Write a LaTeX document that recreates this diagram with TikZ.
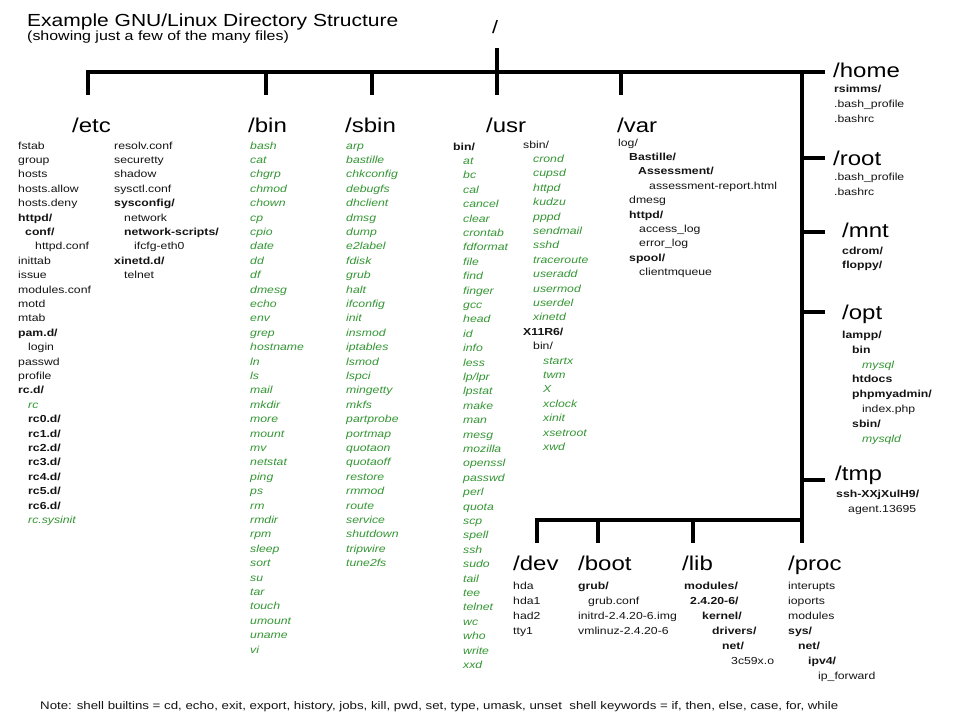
\documentclass[tikz,border=0pt]{standalone}
\usepackage{fontspec}
\setmainfont[FakeStretch=1.2]{Liberation Sans}
\definecolor{exgreen}{RGB}{51,150,51}
\definecolor{txt}{RGB}{20,20,20}
\newcommand\gx[1]{{\color{exgreen}\itshape #1}}
\newcommand\bx[1]{\textbf{#1}}
\newcommand\ix[1]{\hspace*{#1pt}}
\begin{document}
\begin{tikzpicture}[x=1pt,y=-1pt,
  lst/.style={anchor=base west, inner sep=0pt, text=txt, font=\fontsize{10.2}{#1}\selectfont},
  lst/.default=14.4,
  big/.style={anchor=base west, inner sep=0pt, text=black, font=\fontsize{20}{24}\selectfont},
  conn/.style={line width=4.3pt, line join=miter, black}]
\useasboundingbox[fill=white] (0,0) rectangle (960,720);

% title
\node[anchor=base west, inner sep=0pt, font=\fontsize{17.5}{20}\selectfont] (title) at (27,27) {Example GNU/Linux Directory Structure};
\node[anchor=base west, inner sep=0pt, font=\fontsize{13.3}{16}\selectfont] (subtitle) at (27,40) {(showing just a few of the many files)};
\node[anchor=base west, inner sep=0pt, font=\fontsize{18}{20}\selectfont] (root) at (492,33) {/};

% connectors
\coordinate (rt) at (497,48); \coordinate (rb) at (497,95);
\coordinate (etcd) at (88,95); \coordinate (hl) at (88,72); \coordinate (hr) at (825,72);
\coordinate (binj) at (266,72); \coordinate (bind) at (266,95);
\coordinate (sbinj) at (372,72); \coordinate (sbind) at (372,95);
\coordinate (varj) at (621,72); \coordinate (vard) at (621,95);
\coordinate (vt) at (802,72); \coordinate (vb) at (802,543);
\coordinate (rootj) at (802,158); \coordinate (roote) at (825,158);
\coordinate (mntj) at (802,232); \coordinate (mnte) at (825,232);
\coordinate (optj) at (802,312); \coordinate (opte) at (825,312);
\coordinate (tmpj) at (802,480); \coordinate (tmpe) at (825,480);
\coordinate (devd) at (537,543); \coordinate (devj) at (537,520); \coordinate (bj) at (802,520);
\coordinate (bootj) at (598,520); \coordinate (bootd) at (598,543);
\coordinate (libj) at (693,520); \coordinate (libd) at (693,543);

\draw[conn] (rt) -- (rb);
\draw[conn] (etcd) -- (hl) -- (hr);
\draw[conn] (binj) -- (bind);
\draw[conn] (sbinj) -- (sbind);
\draw[conn] (varj) -- (vard);
\draw[conn] (vt) -- (vb);
\draw[conn] (rootj) -- (roote);
\draw[conn] (mntj) -- (mnte);
\draw[conn] (optj) -- (opte);
\draw[conn] (tmpj) -- (tmpe);
\draw[conn] (devd) -- (devj) -- (bj);
\draw[conn] (bootj) -- (bootd);
\draw[conn] (libj) -- (libd);

% top directory labels
\node[big] (etc) at (72,132) {/etc};
\node[big] (bin) at (248,132) {/bin};
\node[big] (sbin) at (345,132) {/sbin};
\node[big] (usr) at (486,132) {/usr};
\node[big] (var) at (617,132) {/var};

% /etc
\node[lst] (etc1) at (18,149) {\begin{tabular}[t]{@{}l@{}}
fstab\\ group\\ hosts\\ hosts.allow\\ hosts.deny\\ \bx{httpd/}\\ \ix{7}\bx{conf/}\\ \ix{17}httpd.conf\\
inittab\\ issue\\ modules.conf\\ motd\\ mtab\\ \bx{pam.d/}\\ \ix{10}login\\ passwd\\ profile\\ \bx{rc.d/}\\
\ix{10}\gx{rc}\\ \ix{10}\bx{rc0.d/}\\ \ix{10}\bx{rc1.d/}\\ \ix{10}\bx{rc2.d/}\\ \ix{10}\bx{rc3.d/}\\
\ix{10}\bx{rc4.d/}\\ \ix{10}\bx{rc5.d/}\\ \ix{10}\bx{rc6.d/}\\ \ix{10}\gx{rc.sysinit}
\end{tabular}};
\node[lst] (etc2) at (114,149) {\begin{tabular}[t]{@{}l@{}}
resolv.conf\\ securetty\\ shadow\\ sysctl.conf\\ \bx{sysconfig/}\\ \ix{10}network\\ \ix{10}\bx{network-scripts/}\\
\ix{20}ifcfg-eth0\\ \bx{xinetd.d/}\\ \ix{10}telnet
\end{tabular}};

% /bin
\node[lst, text=exgreen] (binl) at (250,149) {\itshape\begin{tabular}[t]{@{}l@{}}
bash\\ cat\\ chgrp\\ chmod\\ chown\\ cp\\ cpio\\ date\\ dd\\ df\\ dmesg\\ echo\\ env\\ grep\\ hostname\\ ln\\ ls\\ mail\\
mkdir\\ more\\ mount\\ mv\\ netstat\\ ping\\ ps\\ rm\\ rmdir\\ rpm\\ sleep\\ sort\\ su\\ tar\\ touch\\ umount\\ uname\\ vi
\end{tabular}};

% /sbin
\node[lst, text=exgreen] (sbinl) at (346,149) {\itshape\begin{tabular}[t]{@{}l@{}}
arp\\ bastille\\ chkconfig\\ debugfs\\ dhclient\\ dmsg\\ dump\\ e2label\\ fdisk\\ grub\\ halt\\ ifconfig\\ init\\ insmod\\
iptables\\ lsmod\\ lspci\\ mingetty\\ mkfs\\ partprobe\\ portmap\\ quotaon\\ quotaoff\\ restore\\ rmmod\\ route\\
service\\ shutdown\\ tripwire\\ tune2fs
\end{tabular}};

% /usr
\node[lst] (usr1) at (453,150) {\begin{tabular}[t]{@{}l@{}}
\bx{bin/}\\ \ix{10}\gx{at}\\ \ix{10}\gx{bc}\\ \ix{10}\gx{cal}\\ \ix{10}\gx{cancel}\\ \ix{10}\gx{clear}\\ \ix{10}\gx{crontab}\\
\ix{10}\gx{fdformat}\\ \ix{10}\gx{file}\\ \ix{10}\gx{find}\\ \ix{10}\gx{finger}\\ \ix{10}\gx{gcc}\\ \ix{10}\gx{head}\\
\ix{10}\gx{id}\\ \ix{10}\gx{info}\\ \ix{10}\gx{less}\\ \ix{10}\gx{lp/lpr}\\ \ix{10}\gx{lpstat}\\ \ix{10}\gx{make}\\
\ix{10}\gx{man}\\ \ix{10}\gx{mesg}\\ \ix{10}\gx{mozilla}\\ \ix{10}\gx{openssl}\\ \ix{10}\gx{passwd}\\ \ix{10}\gx{perl}\\
\ix{10}\gx{quota}\\ \ix{10}\gx{scp}\\ \ix{10}\gx{spell}\\ \ix{10}\gx{ssh}\\ \ix{10}\gx{sudo}\\ \ix{10}\gx{tail}\\
\ix{10}\gx{tee}\\ \ix{10}\gx{telnet}\\ \ix{10}\gx{wc}\\ \ix{10}\gx{who}\\ \ix{10}\gx{write}\\ \ix{10}\gx{xxd}
\end{tabular}};
\node[lst] (usr2) at (523,148) {\begin{tabular}[t]{@{}l@{}}
sbin/\\ \ix{10}\gx{crond}\\ \ix{10}\gx{cupsd}\\ \ix{10}\gx{httpd}\\ \ix{10}\gx{kudzu}\\ \ix{10}\gx{pppd}\\
\ix{10}\gx{sendmail}\\ \ix{10}\gx{sshd}\\ \ix{10}\gx{traceroute}\\ \ix{10}\gx{useradd}\\ \ix{10}\gx{usermod}\\
\ix{10}\gx{userdel}\\ \ix{10}\gx{xinetd}\\ \bx{X11R6/}\\ \ix{10}bin/\\ \ix{20}\gx{startx}\\ \ix{20}\gx{twm}\\
\ix{20}\gx{X}\\ \ix{20}\gx{xclock}\\ \ix{20}\gx{xinit}\\ \ix{20}\gx{xsetroot}\\ \ix{20}\gx{xwd}
\end{tabular}};

% /var
\node[lst] (varl) at (618,146) {\begin{tabular}[t]{@{}l@{}}
log/\\ \ix{11}\bx{Bastille/}\\ \ix{20}\bx{Assessment/}\\ \ix{31}assessment-report.html\\ \ix{11}dmesg\\
\ix{11}\bx{httpd/}\\ \ix{21}access\_log\\ \ix{21}error\_log\\ \ix{11}\bx{spool/}\\ \ix{21}clientmqueue
\end{tabular}};

% right column
\node[big] (home) at (833,77) {/home};
\node[lst=15] (homel) at (834,92.5) {\begin{tabular}[t]{@{}l@{}}
\bx{rsimms/}\\ .bash\_profile\\ .bashrc
\end{tabular}};
\node[big] (rootd) at (833,165) {/root};
\node[lst=15] (rootl) at (834,180) {\begin{tabular}[t]{@{}l@{}}
.bash\_profile\\ .bashrc
\end{tabular}};
\node[big] (mnt) at (842,237) {/mnt};
\node[lst=14] (mntl) at (842,254.5) {\begin{tabular}[t]{@{}l@{}}
\bx{cdrom/}\\ \bx{floppy/}
\end{tabular}};
\node[big] (opt) at (842,319) {/opt};
\node[lst=14.8] (optl) at (842,338.5) {\begin{tabular}[t]{@{}l@{}}
\bx{lampp/}\\ \ix{10}\bx{bin}\\ \ix{20}\gx{mysql}\\ \ix{10}\bx{htdocs}\\ \ix{10}\bx{phpmyadmin/}\\
\ix{20}index.php\\ \ix{10}\bx{sbin/}\\ \ix{20}\gx{mysqld}
\end{tabular}};
\node[big] (tmp) at (835,480) {/tmp};
\node[lst=15] (tmpl) at (836,497) {\begin{tabular}[t]{@{}l@{}}
\bx{ssh-XXjXulH9/}\\ \ix{12}agent.13695
\end{tabular}};

% bottom row
\node[big] (dev) at (513,570) {/dev};
\node[lst=15] (devl) at (513,589) {\begin{tabular}[t]{@{}l@{}}
hda\\ hda1\\ had2\\ tty1
\end{tabular}};
\node[big] (boot) at (578,570) {/boot};
\node[lst=15] (bootl) at (578,589) {\begin{tabular}[t]{@{}l@{}}
\bx{grub/}\\ \ix{10}grub.conf\\ initrd-2.4.20-6.img\\ vmlinuz-2.4.20-6
\end{tabular}};
\node[big] (lib) at (682,570) {/lib};
\node[lst=15] (libl) at (684,589) {\begin{tabular}[t]{@{}l@{}}
\bx{modules/}\\ \ix{6}\bx{2.4.20-6/}\\ \ix{18}\bx{kernel/}\\ \ix{28}\bx{drivers/}\\ \ix{38}\bx{net/}\\ \ix{47}3c59x.o
\end{tabular}};
\node[big] (proc) at (788,570) {/proc};
\node[lst=15] (procl) at (788,589) {\begin{tabular}[t]{@{}l@{}}
interupts\\ ioports\\ modules\\ \bx{sys/}\\ \ix{10}\bx{net/}\\ \ix{20}\bx{ipv4/}\\ \ix{30}ip\_forward
\end{tabular}};

% note
\node[anchor=base west, inner sep=0pt, text=txt] (note) at (40,709) {\resizebox{798pt}{!}{\fontsize{10}{12}\selectfont Note: shell builtins = cd, echo, exit, export, history, jobs, kill, pwd, set, type, umask, unset\ \ shell keywords = if, then, else, case, for, while}};
\end{tikzpicture}
\end{document}
